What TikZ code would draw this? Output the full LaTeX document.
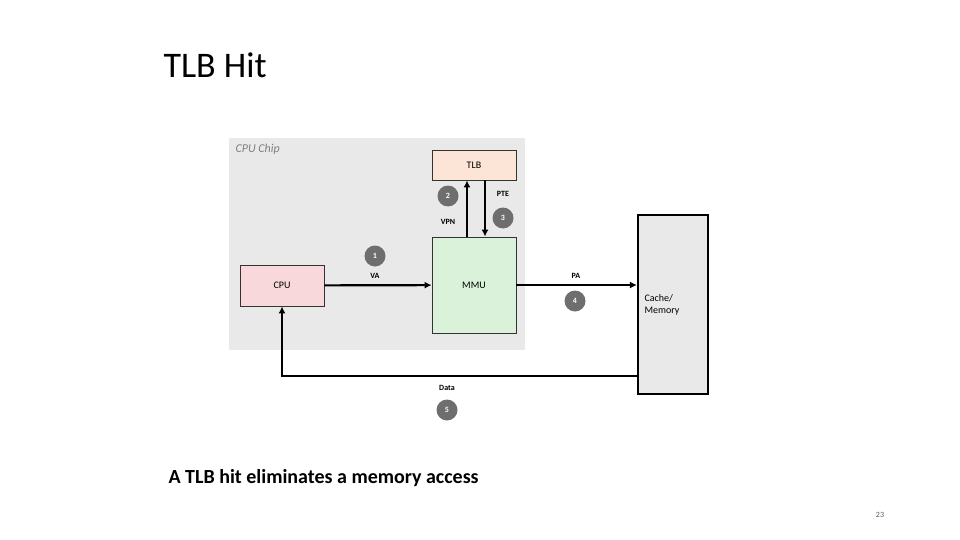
\documentclass[tikz,border=0pt]{standalone}
\usepackage{fontspec}
\setmainfont{Carlito}
\usetikzlibrary{arrows.meta,positioning}
\definecolor{chipgray}{RGB}{233,233,233}
\definecolor{tlbfill}{RGB}{252,228,214}
\definecolor{mmufill}{RGB}{218,242,218}
\definecolor{cpufill}{RGB}{248,216,218}
\definecolor{stepgray}{RGB}{110,110,110}
\begin{document}
\begin{tikzpicture}[x=1pt,y=-1pt,
	every node/.style = {align=center},
	Box/.style = {draw=black!80, line width=0.8pt, minimum width=84pt, inner sep=0pt},
	Line/.style = {-{Latex[length=7pt,width=7pt]}, line width=2.2pt},
	Step/.style = {circle, fill=stepgray, text=white, font=\footnotesize\bfseries, minimum size=21pt, inner sep=0pt},
	Lbl/.style = {font=\footnotesize\bfseries}
]
\useasboundingbox (0,0) rectangle (960,540);
\fill[chipgray] (229,138) rectangle (525,350);
\node[anchor=north west, text=gray, font=\itshape\large] at (232,141) {CPU Chip};
\node[anchor=west, font=\fontsize{36}{40}\selectfont] at (160,65) {TLB Hit};

\node[Box, fill=tlbfill, minimum height=30pt] (tlb) at (474,165) {TLB};
\node[Box, fill=mmufill, minimum height=96pt] (mmu) at (474,285) {MMU};
\node[Box, fill=cpufill, minimum height=41pt] (cpu) at (282,285.5) {CPU};
\node[draw, line width=2.2pt, fill=chipgray, minimum width=70pt, minimum height=179pt] (mem) at (673,304.5) {};
\node[anchor=west, align=left] at (641,305) {Cache/\\Memory};

\coordinate (vpnA) at ([xshift=-7pt] mmu.north);
\coordinate (vpnB) at ([xshift=-7pt] tlb.south);
\coordinate (pteA) at ([xshift=11pt] tlb.south);
\coordinate (pteB) at ([xshift=11pt] mmu.north);
\coordinate (dataA) at (mem.west |- 0,376);
\coordinate (dataB) at (cpu.south |- 0,376);

\draw[Line] (cpu) -- (mmu);
\draw[Line] (vpnA) -- (vpnB);
\draw[Line] (pteA) -- (pteB);
\draw[Line] (mmu.east) -- (mem.west |- mmu.east);
\draw[Line] (dataA) -- (dataB) -- (cpu.south);

\node[Step] (s1) at (375,256) {1};
\node[Step] (s2) at (448,196) {2};
\node[Step] (s3) at (503,218) {3};
\node[Step] (s4) at (575,301) {4};
\node[Step] (s5) at (447,410) {5};
\node[Lbl] at (375,276) {VA};
\node[Lbl] at (448,222) {VPN};
\node[Lbl] at (503,194) {PTE};
\node[Lbl] at (576,276) {PA};
\node[Lbl] at (447,388) {Data};

\node[anchor=west, font=\fontsize{20}{24}\selectfont\bfseries] at (165,478) {A TLB hit eliminates a memory access};
\node[font=\footnotesize, text=gray!70!black] at (880,515) {23};
\end{tikzpicture}
\end{document}
